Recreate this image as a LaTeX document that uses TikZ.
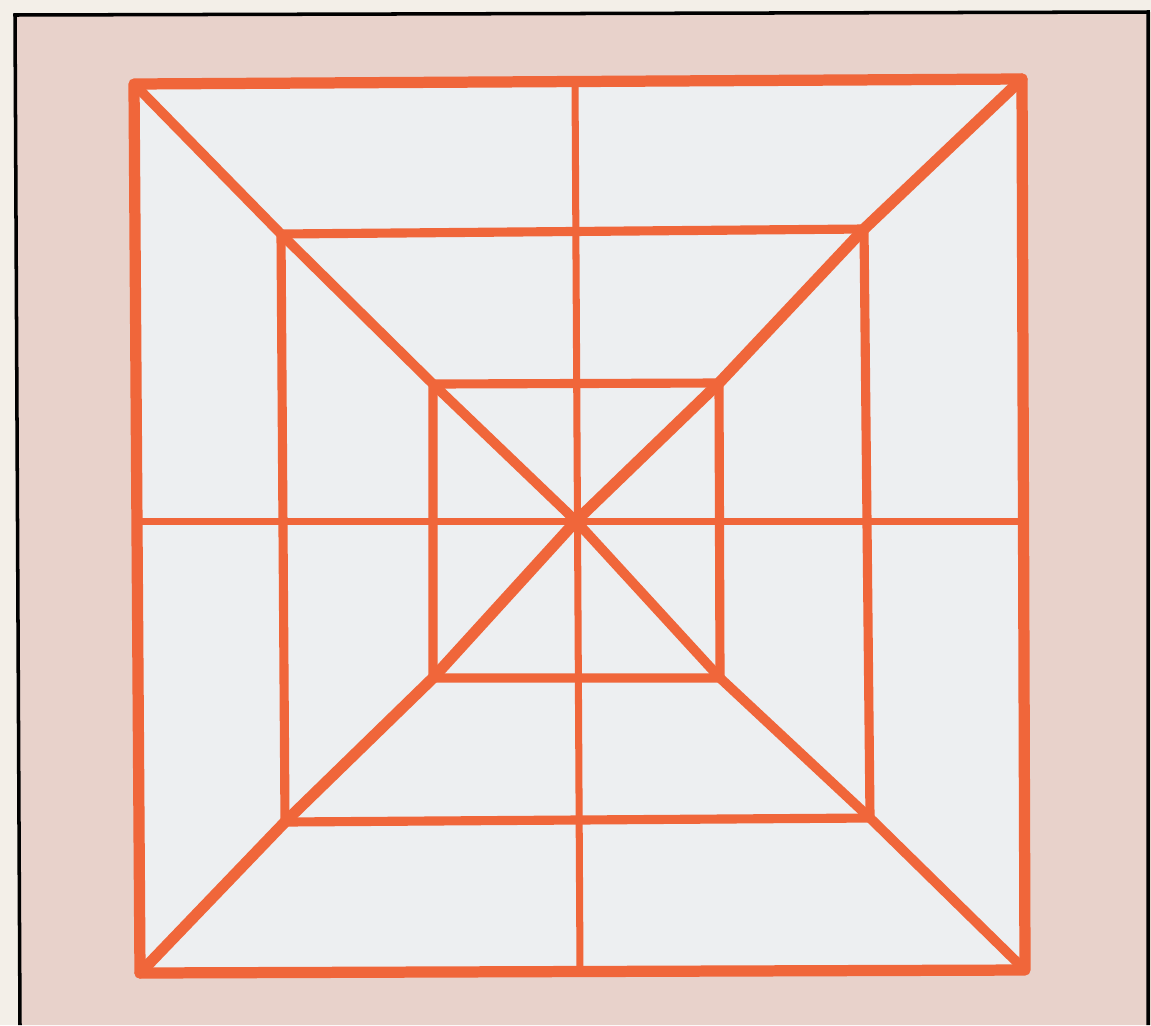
\documentclass[tikz,border=0pt]{standalone}
\usetikzlibrary{calc}
\definecolor{paper}{HTML}{F3EFE8}
\definecolor{pinkbg}{HTML}{E8D2CB}
\definecolor{innerfill}{HTML}{EDEFF1}
\definecolor{lineor}{HTML}{F0663A}
\tikzset{
  outerline/.style={draw=lineor,line width=6.4pt,line join=round,line cap=round},
  midline/.style={draw=lineor,line width=5.2pt,line join=round,line cap=round},
  thinline/.style={draw=lineor,line width=4pt,line cap=round},
  diagline/.style={draw=lineor,line width=5.6pt,line join=round,line cap=round},
  diagthick/.style={draw=lineor,line width=6.4pt,line join=round,line cap=round},
  frameline/.style={draw=black,line width=2pt}
}
\begin{document}
\begin{tikzpicture}[x=0.02cm,y=-0.02cm]
\useasboundingbox (0,0) rectangle (1151,1025);
\fill[paper] (0,0) rectangle (1151,1025);
\fill[pinkbg] (15,15) -- (1148,12) -- (1151,12) -- (1151,1025) -- (20,1025) -- cycle;
\draw[frameline] (20,1025) -- (15,15) -- (1148,12) -- (1148,1025);
% coordinates
\coordinate (OTL) at (134,84);
\coordinate (OTR) at (1022,79);
\coordinate (OBR) at (1025,970);
\coordinate (OBL) at (140,973);
\coordinate (MTL) at (281,234);
\coordinate (MTR) at (864,229);
\coordinate (MBR) at (870,818);
\coordinate (MBL) at (285,822);
\coordinate (ITL) at (433,384);
\coordinate (ITR) at (719,383);
\coordinate (IBR) at (720,678);
\coordinate (IBL) at (433,678);
\coordinate (C) at (576,521);
\coordinate (VT) at (575,81);
\coordinate (VB) at (580,971);
\coordinate (HL) at (136,521);
\coordinate (HR) at (1024,521);
\fill[innerfill] (OTL) -- (OTR) -- (OBR) -- (OBL) -- cycle;
% axes
\draw[thinline] (VT) -- (VB);
\draw[thinline] (HL) -- (HR);
% squares
\draw[midline] (MTL) -- (MTR) -- (MBR) -- (MBL) -- cycle;
\draw[midline] (ITL) -- (ITR) -- (IBR) -- (IBL) -- cycle;
% diagonals
\draw[diagline] (OTL) -- (MTL) -- (ITL) -- (C) -- (IBR) -- (MBR) -- (OBR);
\draw[diagthick] (OTR) -- (MTR) -- (ITR) -- (C) -- (IBL) -- (MBL) -- (OBL);
% outer square
\draw[outerline] (OTL) -- (OTR) -- (OBR) -- (OBL) -- cycle;
\end{tikzpicture}
\end{document}
